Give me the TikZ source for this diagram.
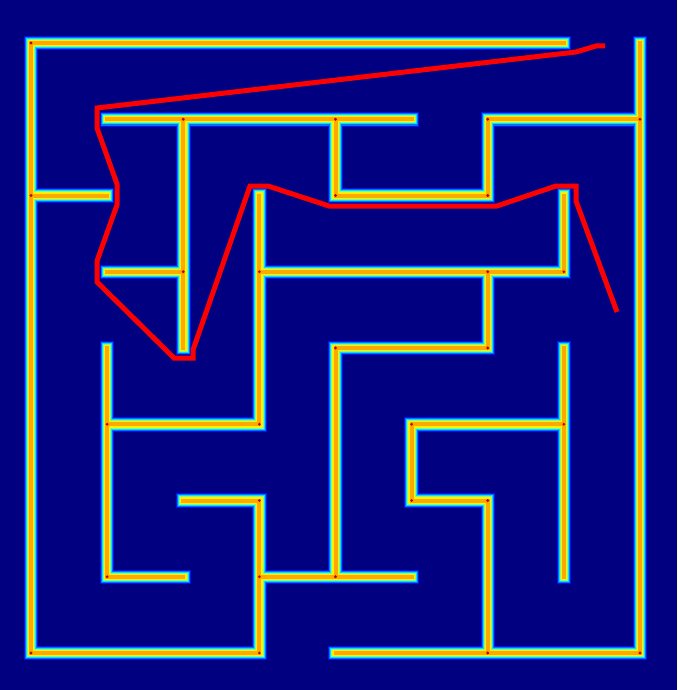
\documentclass[tikz,border=0pt]{standalone}
\usepackage{tikz}
\definecolor{mzBg}{HTML}{000080}
\definecolor{mzBlue}{HTML}{0010F0}
\definecolor{mzSky}{HTML}{0070FF}
\definecolor{mzCyan}{HTML}{00E0FF}
\definecolor{mzGreen}{HTML}{80FF80}
\definecolor{mzYellow}{HTML}{FFF000}
\definecolor{mzOrange}{HTML}{FFA800}
\definecolor{mzCore}{HTML}{C00000}
\definecolor{mzPath}{HTML}{FF0000}

\begin{document}
\begin{tikzpicture}[x=1pt,y=-1pt,
    layer/.style={line cap=rect, line join=miter},
    wall/.style={layer, line width=4pt, draw=mzOrange,
                 preaction={layer, draw=mzBlue,   line width=14.5pt},
                 preaction={layer, draw=mzSky,    line width=12.5pt},
                 preaction={layer, draw=mzCyan,   line width=10.5pt},
                 preaction={layer, draw=mzGreen,  line width=8.5pt},
                 preaction={layer, draw=mzYellow, line width=6.5pt}},
    route/.style={draw=mzPath, line width=5pt, line join=miter}]
    \fill[mzBg] (0,0) rectangle (677,690);
    \useasboundingbox (0,0) rectangle (677,690);
    \begin{scope}[shift={(31,43)}, x=76.125pt, y=-76.25pt]
        \draw[wall] (7,0) -- (0,0) -- (0,8) -- (3,8)
                    (8,0) -- (8,8) -- (4,8)
                    (0,2) -- (1,2)
                    (1,1) -- (5,1)
                    (2,1) -- (2,4)
                    (1,3) -- (2,3)
                    (4,1) -- (4,2) -- (6,2) -- (6,1) -- (8,1)
                    (3,2) -- (3,5) -- (1,5)
                    (3,3) -- (7,3) -- (7,2)
                    (6,3) -- (6,4) -- (4,4) -- (4,7)
                    (1,4) -- (1,7) -- (2,7)
                    (2,6) -- (3,6) -- (3,8)
                    (3,7) -- (5,7)
                    (7,4) -- (7,7)
                    (7,5) -- (5,5) -- (5,6) -- (6,6) -- (6,8);
        \foreach \i/\j in {0/0,0/2,2/1,4/1,4/2,6/2,6/1,8/1,3/3,2/3,6/3,7/3,3/5,1/5,
                           4/4,6/4,4/7,3/7,3/6,1/7,0/8,3/8,6/8,8/8,5/5,7/5,5/6,6/6}
            \fill[mzCore] (\i,\j) circle (1.6pt);
    \end{scope}
    \draw[route] (605,46) -- (596,46) -- (576,52) -- (97,108) -- (97,128)
        -- (117,184) -- (117,205) -- (97,261) -- (97,282) -- (174,358)
        -- (193,358) -- (193,350) -- (250,186) -- (268,186) -- (329,206)
        -- (497,206) -- (556,186) -- (576,186) -- (576,201) -- (617,312);
\end{tikzpicture}
\end{document}
